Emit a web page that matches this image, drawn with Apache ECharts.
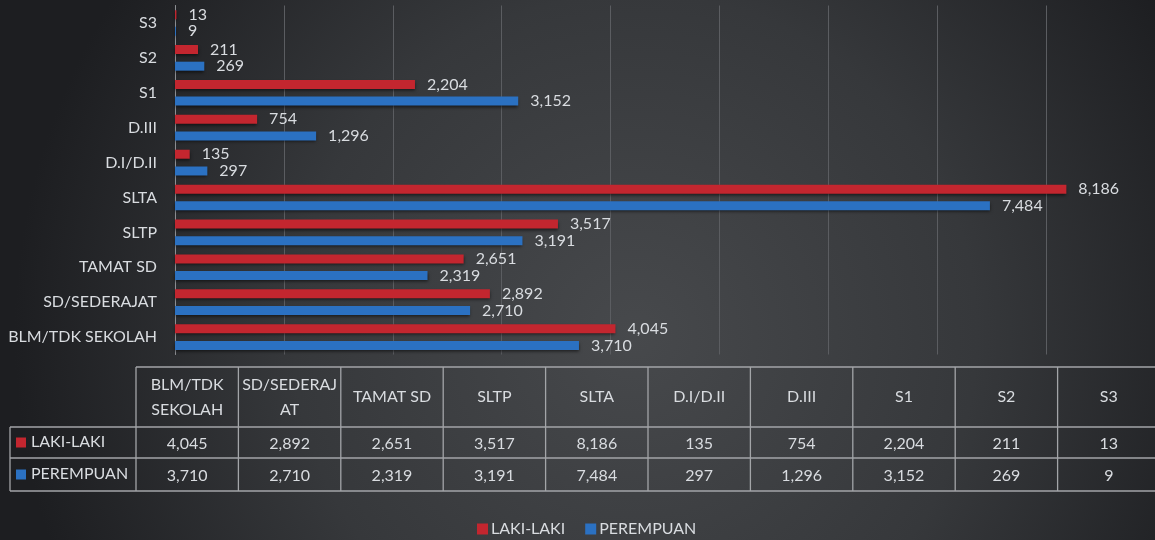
<!DOCTYPE html>
<html>
<head>
<meta charset="utf-8">
<script src="https://cdn.jsdelivr.net/npm/echarts@6/dist/echarts.min.js"></script>
<style>
  html, body { margin: 0; padding: 0; }
  #chart { width: 1155px; height: 540px; }
</style>
</head>
<body>
<div id="chart"></div>
<script>
// data
var categories = ['BLM/TDK SEKOLAH', 'SD/SEDERAJAT', 'TAMAT SD', 'SLTP', 'SLTA', 'D.I/D.II', 'D.III', 'S1', 'S2', 'S3'];
var tableHeaders = ['BLM/TDK\nSEKOLAH', 'SD/SEDERAJ\nAT', 'TAMAT SD', 'SLTP', 'SLTA', 'D.I/D.II', 'D.III', 'S1', 'S2', 'S3'];
var lakiLaki = [4045, 2892, 2651, 3517, 8186, 135, 754, 2204, 211, 13];
var perempuan = [3710, 2710, 2319, 3191, 7484, 297, 1296, 3152, 269, 9];
var seriesNames = ['LAKI-LAKI', 'PEREMPUAN'];
var seriesColors = ['#c3262f', '#2b71c2'];

var FONT = 'Lato';
var TEXT = '#d9dce0';

function fmt(v) { return Number(v).toLocaleString('en-US'); }

// data table under the chart
var tbl = { x0: 136, colW: 102.4, keyX: 10, yHead: 367, yRow1: 427, yRow2: 458, yEnd: 491 };
var rows = [lakiLaki, perempuan];
var graphics = [];
var lineStyle = { stroke: '#a3a5a8', lineWidth: 1.3 };
var xEnd = tbl.x0 + tbl.colW * categories.length;

function hline(x1, x2, y) {
  graphics.push({ type: 'line', shape: { x1: x1, y1: y, x2: x2, y2: y }, style: lineStyle, silent: true });
}
function vline(x, y1, y2) {
  graphics.push({ type: 'line', shape: { x1: x, y1: y1, x2: x, y2: y2 }, style: lineStyle, silent: true });
}
hline(tbl.x0, xEnd, tbl.yHead);
hline(tbl.keyX, xEnd, tbl.yRow1);
hline(tbl.keyX, xEnd, tbl.yRow2);
hline(tbl.keyX, xEnd, tbl.yEnd);
vline(tbl.keyX, tbl.yRow1, tbl.yEnd);
for (var i = 0; i <= categories.length; i++) {
  vline(tbl.x0 + i * tbl.colW, tbl.yHead, tbl.yEnd);
}
for (var c = 0; c < categories.length; c++) {
  var cx = tbl.x0 + (c + 0.5) * tbl.colW;
  graphics.push({
    type: 'text', x: cx, y: (tbl.yHead + tbl.yRow1) / 2, silent: true,
    style: { text: tableHeaders[c], fill: TEXT, font: '16px ' + FONT, align: 'center', verticalAlign: 'middle', lineHeight: 25 }
  });
  var ys = [(tbl.yRow1 + tbl.yRow2) / 2, (tbl.yRow2 + tbl.yEnd) / 2];
  for (var r = 0; r < rows.length; r++) {
    graphics.push({
      type: 'text', x: cx, y: ys[r] + 1, silent: true,
      style: { text: fmt(rows[r][c]), fill: TEXT, font: '16px ' + FONT, align: 'center', verticalAlign: 'middle' }
    });
  }
}
var keyYs = [(tbl.yRow1 + tbl.yRow2) / 2, (tbl.yRow2 + tbl.yEnd) / 2];
for (var k = 0; k < seriesNames.length; k++) {
  graphics.push({ type: 'rect', shape: { x: 16, y: keyYs[k] - 5, width: 10, height: 10 }, style: { fill: seriesColors[k] }, silent: true });
  graphics.push({
    type: 'text', x: 31, y: keyYs[k] - 1, silent: true,
    style: { text: seriesNames[k], fill: TEXT, font: '16px ' + FONT, align: 'left', verticalAlign: 'middle' }
  });
}

var chart = echarts.init(document.getElementById('chart'));
var barLabel = {
  show: true,
  position: 'right',
  distance: 12,
  color: TEXT,
  fontFamily: FONT,
  fontSize: 16,
  formatter: function (p) { return fmt(p.value); }
};

var option = {
  animation: false,
  backgroundColor: {
    type: 'radial', x: 0.55, y: 0.62, r: 1.15,
    colorStops: [
      { offset: 0, color: '#47494c' },
      { offset: 0.55, color: '#36383b' },
      { offset: 1, color: '#1d1e21' }
    ]
  },
  textStyle: { fontFamily: FONT },
  legend: {
    data: seriesNames,
    left: 477,
    top: 521,
    padding: 0,
    icon: 'rect',
    itemWidth: 11,
    itemHeight: 11,
    itemGap: 20,
    textStyle: { color: TEXT, fontSize: 16, fontFamily: FONT, padding: [0, 0, 0, -2] }
  },
  grid: { left: 175, top: 5.5, height: 349, width: 985, containLabel: false },
  xAxis: {
    type: 'value',
    min: 0,
    max: 9000,
    interval: 1000,
    axisLabel: { show: false },
    axisLine: { show: false },
    axisTick: { show: false },
    splitLine: { lineStyle: { color: '#5b5d61', width: 1 } }
  },
  yAxis: {
    type: 'category',
    data: categories,
    axisTick: { show: false },
    axisLine: { lineStyle: { color: '#8d8f93', width: 1 } },
    axisLabel: { color: TEXT, fontSize: 16, fontFamily: FONT, margin: 18 }
  },
  series: [
    {
      name: seriesNames[0], type: 'bar', data: lakiLaki, barWidth: 9, barGap: '85%',
      itemStyle: { color: seriesColors[0], shadowColor: 'rgba(0,0,0,0.55)', shadowBlur: 3, shadowOffsetY: 2 },
      label: barLabel
    },
    {
      name: seriesNames[1], type: 'bar', data: perempuan, barWidth: 9, barGap: '85%',
      itemStyle: { color: seriesColors[1], shadowColor: 'rgba(0,0,0,0.55)', shadowBlur: 3, shadowOffsetY: 2 },
      label: barLabel
    }
  ],
  graphic: graphics
};
chart.setOption(option);
</script>
</body>
</html>
